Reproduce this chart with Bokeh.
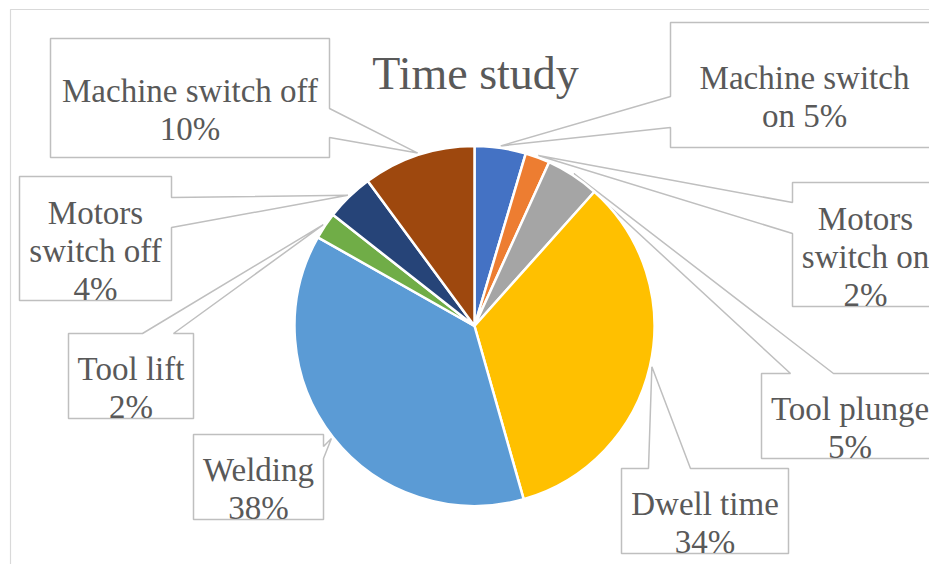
import math
from bokeh.plotting import figure
from bokeh.models import ColumnDataSource, Range1d
from bokeh.core.properties import value
from bokeh.embed import file_html
from bokeh.resources import INLINE

# ---------------- data ----------------
title = "Time study"
categories = ["Machine switch on", "Motors switch on", "Tool plunge", "Dwell time",
              "Welding", "Tool lift", "Motors switch off", "Machine switch off"]
shares = [4.6, 2.2, 4.8, 34.0, 37.6, 2.4, 4.3, 10.1]   # percent
label_templates = ["Machine switch\non {}%", "Motors\nswitch on\n{}%", "Tool plunge\n{}%",
                   "Dwell time\n{}%", "Welding\n{}%", "Tool lift\n{}%",
                   "Motors\nswitch off\n{}%", "Machine switch off\n{}%"]
colors = ["#4472C4", "#ED7D31", "#A5A5A5", "#FFC000",
          "#5B9BD5", "#70AD47", "#264478", "#9E480E"]

# ---------------- layout (pixel positions, top-down) ----------------
W, H = 929, 564
CX, CY, R = 474, 325.5, 180
R_TIP = 182
boxes = [(670, 22, 938, 147), (792, 182, 938, 306), (761, 373, 938, 458), (621, 468, 788, 553),
         (193, 434, 323, 519), (68, 333, 193, 418), (19, 176, 171, 300), (50, 38, 329, 157)]
sides = ["left", "left", "top", "top", "right", "top", "right", "right"]
attach = [(96, 127), (202, 233), (790, 833), (648, 690), (446, 458), (142, 173), (197, 227), (108, 137)]
TEXT_COLOR = "#595959"
FONT = "Liberation Serif, Times New Roman, DejaVu Serif, serif"
LABEL_SIZE = 33
LINE_GAP = 38


def Y(py):
    return H - py


p = figure(width=W, height=H, x_range=Range1d(0, W), y_range=Range1d(0, H),
           min_border=0, toolbar_location=None, output_backend="svg",
           x_axis_type=None, y_axis_type=None)
p.grid.visible = False
p.outline_line_color = None
p.background_fill_color = "white"
p.border_fill_color = "white"

# chart area border (only left and top edges visible)
p.line(x=[10, 10, W + 20], y=[Y(H + 20), Y(9), Y(9)], line_color="#d9d9d9", line_width=1.2)

# angles (clockwise from 12 o'clock, degrees)
total = sum(shares)
starts, ends, mids = [], [], []
acc = 0.0
for s in shares:
    a0 = acc / total * 360.0
    acc += s
    a1 = acc / total * 360.0
    starts.append(a0)
    ends.append(a1)
    mids.append((a0 + a1) / 2)

# callouts with pointers
xs_list, ys_list = [], []
for (x0, y0, x1, y1), side, (a1, a2), m in zip(boxes, sides, attach, mids):
    tx = CX + R_TIP * math.sin(math.radians(m))
    ty = CY - R_TIP * math.cos(math.radians(m))
    if side == "left":
        pts = [(x0, y0), (x1, y0), (x1, y1), (x0, y1), (x0, a2), (tx, ty), (x0, a1)]
    elif side == "right":
        pts = [(x0, y0), (x1, y0), (x1, a1), (tx, ty), (x1, a2), (x1, y1), (x0, y1)]
    else:  # top
        pts = [(x0, y0), (a1, y0), (tx, ty), (a2, y0), (x1, y0), (x1, y1), (x0, y1)]
    xs_list.append([q[0] for q in pts])
    ys_list.append([Y(q[1]) for q in pts])
p.patches(xs=xs_list, ys=ys_list, fill_color="white", line_color="#bfbfbf", line_width=1.5)

# pie
src = ColumnDataSource(dict(
    cat=categories, color=colors,
    start=[math.pi / 2 - math.radians(a) for a in starts],
    end=[math.pi / 2 - math.radians(a) for a in ends],
))
p.wedge(x=CX, y=Y(CY), radius=R, start_angle="start", end_angle="end", direction="clock",
        fill_color="color", line_color="white", line_width=2.5, source=src)

# label texts
tx_, ty_, tt_ = [], [], []
for (x0, y0, x1, y1), tpl, s in zip(boxes, label_templates, shares):
    lines = tpl.format(int(round(s))).split("\n")
    n = len(lines)
    cx = (x0 + x1) / 2
    cy = (y0 + y1) / 2 + 12
    for i, ln in enumerate(lines):
        tx_.append(cx)
        ty_.append(Y(cy + (i - (n - 1) / 2) * LINE_GAP))
        tt_.append(ln)
p.text(x=tx_, y=ty_, text=tt_, text_align="center", text_baseline="alphabetic",
       text_font=value(FONT), text_font_size=f"{LABEL_SIZE}px", text_color=TEXT_COLOR)

# title
p.text(x=[475], y=[Y(73)], text=[title], text_align="center", text_baseline="alphabetic",
       text_font=value(FONT), text_font_size="46px", text_color=TEXT_COLOR)

open("out.html", "w").write(file_html(p, INLINE))
